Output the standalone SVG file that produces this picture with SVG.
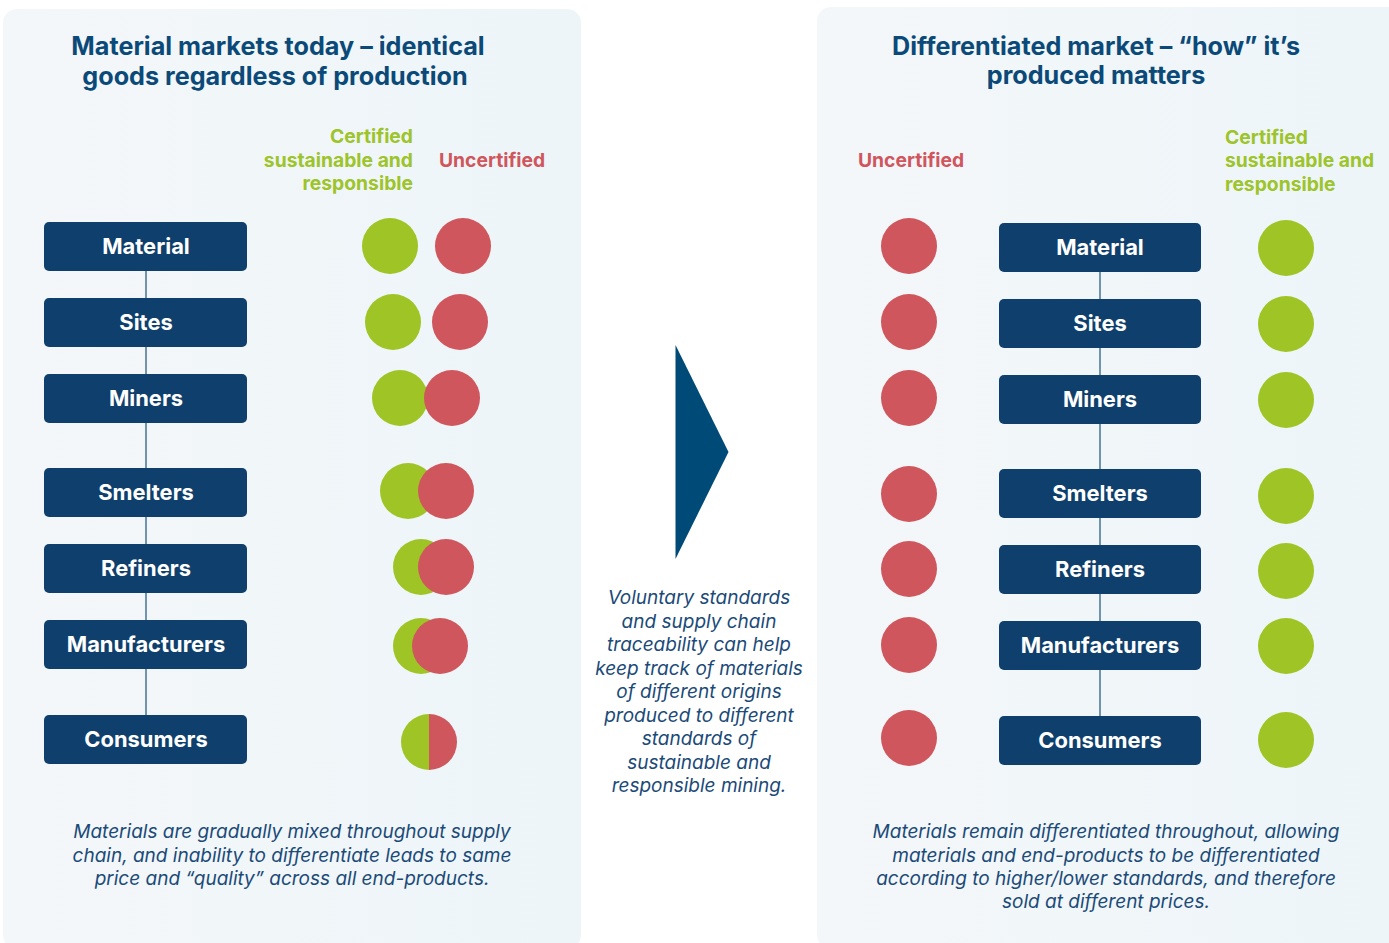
<svg xmlns="http://www.w3.org/2000/svg" width="1389" height="943" viewBox="0 0 1389 943">
<defs>
<linearGradient id="pg" x1="0" y1="0" x2="1" y2="0">
<stop offset="0" stop-color="#f4f7f9"/>
<stop offset="1" stop-color="#edf5f8"/>
</linearGradient>
<style>
.title{font-family:Inter,"Liberation Sans",sans-serif;font-weight:700;font-size:25.2px;fill:#0b4a78;text-anchor:middle}
.lab{font-family:Inter,"Liberation Sans",sans-serif;font-weight:700;font-size:19.3px}
.g{fill:#9dc42a}
.r{fill:#d0555d}
.box{fill:#0f3f6c}
.bt{font-family:Inter,"Liberation Sans",sans-serif;font-weight:700;font-size:21.9px;fill:#ffffff;text-anchor:middle}
.desc{font-family:Inter,"Liberation Sans",sans-serif;font-style:italic;font-size:19px;fill:#1b4a78;text-anchor:middle}
.cg{fill:#9fc425}
.cr{fill:#cf565c}
.ln{stroke:#4f7c9a;stroke-width:1.6;fill:none}
</style>
</defs>
<rect width="1389" height="943" fill="#ffffff"/>
<g id="panel-left">
<rect x="3" y="9" width="578" height="940" rx="14" fill="url(#pg)"/>
<text class="title" x="278" y="55">Material markets today – identical</text>
<text class="title" x="275" y="85">goods regardless of production</text>
<text class="lab g" x="413" y="143" text-anchor="end">Certified</text>
<text class="lab g" x="413" y="167" text-anchor="end">sustainable and</text>
<text class="lab g" x="413" y="190" text-anchor="end">responsible</text>
<text class="lab r" x="439" y="167">Uncertified</text>
</g>
<g id="panel-right">
<rect x="817" y="7" width="590" height="942" rx="14" fill="url(#pg)"/>
<text class="title" x="1096" y="55">Differentiated market – “how” it’s</text>
<text class="title" x="1096" y="84">produced matters</text>
<text class="lab r" x="858" y="167">Uncertified</text>
<text class="lab g" x="1225" y="144">Certified</text>
<text class="lab g" x="1225" y="167">sustainable and</text>
<text class="lab g" x="1225" y="191">responsible</text>
</g>
<g id="connectors">
<line class="ln" x1="146" y1="271" x2="146" y2="298"/>
<line class="ln" x1="146" y1="347" x2="146" y2="374"/>
<line class="ln" x1="146" y1="423" x2="146" y2="468"/>
<line class="ln" x1="146" y1="517" x2="146" y2="544"/>
<line class="ln" x1="146" y1="593" x2="146" y2="620"/>
<line class="ln" x1="146" y1="669" x2="146" y2="715"/>
<line class="ln" x1="1100" y1="272" x2="1100" y2="299"/>
<line class="ln" x1="1100" y1="348" x2="1100" y2="375"/>
<line class="ln" x1="1100" y1="424" x2="1100" y2="469"/>
<line class="ln" x1="1100" y1="518" x2="1100" y2="545"/>
<line class="ln" x1="1100" y1="594" x2="1100" y2="621"/>
<line class="ln" x1="1100" y1="670" x2="1100" y2="716"/>
</g>
<g id="l-material"><rect class="box" x="44" y="222" width="203" height="49" rx="5"/><text class="bt" x="146" y="254">Material</text></g>
<g id="l-sites"><rect class="box" x="44" y="298" width="203" height="49" rx="5"/><text class="bt" x="146" y="330">Sites</text></g>
<g id="l-miners"><rect class="box" x="44" y="374" width="203" height="49" rx="5"/><text class="bt" x="146" y="406">Miners</text></g>
<g id="l-smelters"><rect class="box" x="44" y="468" width="203" height="49" rx="5"/><text class="bt" x="146" y="500">Smelters</text></g>
<g id="l-refiners"><rect class="box" x="44" y="544" width="203" height="49" rx="5"/><text class="bt" x="146" y="576">Refiners</text></g>
<g id="l-manufacturers"><rect class="box" x="44" y="620" width="203" height="49" rx="5"/><text class="bt" x="146" y="652">Manufacturers</text></g>
<g id="l-consumers"><rect class="box" x="44" y="715" width="203" height="49" rx="5"/><text class="bt" x="146" y="747">Consumers</text></g>
<g id="l-circles">
<circle class="cg" cx="390" cy="246" r="28"/><circle class="cr" cx="463" cy="246" r="28"/>
<circle class="cg" cx="393" cy="322" r="28"/><circle class="cr" cx="460" cy="322" r="28"/>
<circle class="cg" cx="400" cy="398" r="28"/><circle class="cr" cx="452" cy="398" r="28"/>
<circle class="cg" cx="408" cy="491" r="28"/><circle class="cr" cx="446" cy="491" r="28"/>
<circle class="cg" cx="421" cy="567" r="28"/><circle class="cr" cx="446" cy="567" r="28"/>
<circle class="cg" cx="421" cy="646" r="28"/><circle class="cr" cx="440" cy="646" r="28"/>
<path class="cg" d="M429 714 A28 28 0 0 0 429 770 Z"/>
<path class="cr" d="M429 714 A28 28 0 0 1 429 770 Z"/>
</g>
<g id="r-material"><rect class="box" x="999" y="223" width="202" height="49" rx="5"/><text class="bt" x="1100" y="255">Material</text></g>
<g id="r-sites"><rect class="box" x="999" y="299" width="202" height="49" rx="5"/><text class="bt" x="1100" y="331">Sites</text></g>
<g id="r-miners"><rect class="box" x="999" y="375" width="202" height="49" rx="5"/><text class="bt" x="1100" y="407">Miners</text></g>
<g id="r-smelters"><rect class="box" x="999" y="469" width="202" height="49" rx="5"/><text class="bt" x="1100" y="501">Smelters</text></g>
<g id="r-refiners"><rect class="box" x="999" y="545" width="202" height="49" rx="5"/><text class="bt" x="1100" y="577">Refiners</text></g>
<g id="r-manufacturers"><rect class="box" x="999" y="621" width="202" height="49" rx="5"/><text class="bt" x="1100" y="653">Manufacturers</text></g>
<g id="r-consumers"><rect class="box" x="999" y="716" width="202" height="49" rx="5"/><text class="bt" x="1100" y="748">Consumers</text></g>
<g id="r-circles">
<circle class="cr" cx="909" cy="246" r="28"/><circle class="cg" cx="1286" cy="248" r="28"/>
<circle class="cr" cx="909" cy="322" r="28"/><circle class="cg" cx="1286" cy="324" r="28"/>
<circle class="cr" cx="909" cy="398" r="28"/><circle class="cg" cx="1286" cy="400" r="28"/>
<circle class="cr" cx="909" cy="494" r="28"/><circle class="cg" cx="1286" cy="496" r="28"/>
<circle class="cr" cx="909" cy="569" r="28"/><circle class="cg" cx="1286" cy="571" r="28"/>
<circle class="cr" cx="909" cy="645" r="28"/><circle class="cg" cx="1286" cy="646" r="28"/>
<circle class="cr" cx="909" cy="738" r="28"/><circle class="cg" cx="1286" cy="740" r="28"/>
</g>
<g id="arrow">
<polygon points="675.5,345 728.5,452 675.5,559" fill="#004a77"/>
</g>
<g id="middle-text">
<text class="desc" x="699" y="604">Voluntary standards</text>
<text class="desc" x="699" y="628">and supply chain</text>
<text class="desc" x="699" y="651">traceability can help</text>
<text class="desc" x="699" y="675">keep track of materials</text>
<text class="desc" x="699" y="698">of different origins</text>
<text class="desc" x="699" y="722">produced to different</text>
<text class="desc" x="699" y="745">standards of</text>
<text class="desc" x="699" y="769">sustainable and</text>
<text class="desc" x="699" y="792">responsible mining.</text>
</g>
<g id="left-caption">
<text class="desc" x="292" y="838">Materials are gradually mixed throughout supply</text>
<text class="desc" x="292" y="862">chain, and inability to differentiate leads to same</text>
<text class="desc" x="292" y="885">price and “quality” across all end-products.</text>
</g>
<g id="right-caption">
<text class="desc" x="1106" y="838">Materials remain differentiated throughout, allowing</text>
<text class="desc" x="1106" y="862">materials and end-products to be differentiated</text>
<text class="desc" x="1106" y="885">according to higher/lower standards, and therefore</text>
<text class="desc" x="1106" y="908">sold at different prices.</text>
</g>
</svg>
